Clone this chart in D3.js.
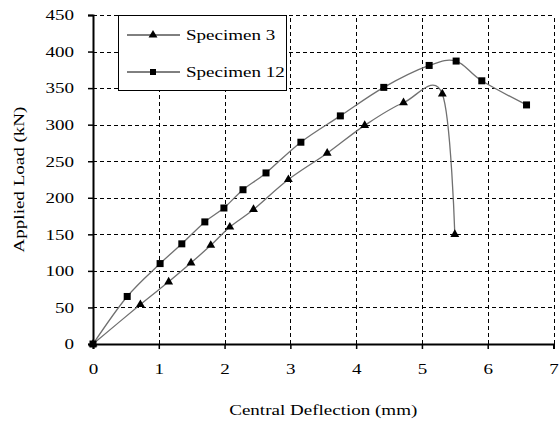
<!DOCTYPE html>
<html>
<head>
<meta charset="utf-8">
<script src="https://cdn.jsdelivr.net/npm/d3@7"></script>
<style>
  body { margin: 0; background: #fff; }
</style>
</head>
<body>
<div id="chart"></div>
<script>
const xTicks = [0, 1, 2, 3, 4, 5, 6, 7];
const yTicks = [0, 50, 100, 150, 200, 250, 300, 350, 400, 450];

const spec3Deflection = [0, 0.72, 1.15, 1.49, 1.79, 2.08, 2.44, 2.97, 3.56, 4.13, 4.72, 5.31, 5.50];
const spec3Load = [0, 54, 85, 111, 135, 160, 184, 225, 261, 299, 330, 342, 150];

const spec12Deflection = [0, 0.52, 1.02, 1.35, 1.70, 1.99, 2.28, 2.63, 3.16, 3.76, 4.42, 5.11, 5.52, 5.91, 6.59];
const spec12Load = [0, 65, 110, 137, 167, 186, 211, 234, 276, 312, 351, 381, 387, 360, 327];

const seriesNames = ['Specimen 3', 'Specimen 12'];

const FONT = "'Liberation Serif', 'Times New Roman', serif";
const SX = 1.27; // the original text is stretched horizontally
const width = 559, height = 427;
const margin = { left: 93, right: 5.5, top: 15, bottom: 83 };

const svg = d3.select('#chart').append('svg')
    .attr('width', width)
    .attr('height', height);

const x = d3.scaleLinear().domain([0, 7]).range([margin.left, width - margin.right]);
const y = d3.scaleLinear().domain([0, 450]).range([height - margin.bottom, margin.top]);

// grid
const grid = svg.append('g').attr('class', 'grid')
    .attr('stroke', '#000').attr('stroke-width', 1).attr('stroke-dasharray', '4,3');
grid.selectAll('.gx').data(xTicks.slice(1)).enter().append('line')
    .attr('x1', d => Math.round(x(d)) + 0.5).attr('x2', d => Math.round(x(d)) + 0.5)
    .attr('y1', y(0)).attr('y2', y(450));
grid.selectAll('.gy').data(yTicks.slice(1)).enter().append('line')
    .attr('x1', x(0)).attr('x2', x(7))
    .attr('y1', d => Math.round(y(d)) + 0.5).attr('y2', d => Math.round(y(d)) + 0.5);

// axes
const xAxis = svg.append('g')
    .attr('transform', `translate(0,${y(0)})`)
    .call(d3.axisBottom(x).tickValues(xTicks).tickSize(5).tickPadding(14).tickFormat(d3.format('d')));
const yAxis = svg.append('g')
    .attr('transform', `translate(${x(0)},0)`)
    .call(d3.axisLeft(y).tickValues(yTicks).tickSize(5).tickPadding(19).tickFormat(d3.format('d')));

[xAxis, yAxis].forEach(a => {
    a.attr('font-family', null);
    a.select('.domain').attr('stroke', '#000').attr('stroke-width', 2);
    a.selectAll('.tick line').attr('stroke', '#000').attr('stroke-width', 1.5);
    a.selectAll('.tick text')
        .style('font-family', FONT)
        .style('font-size', '15px')
        .attr('transform', `scale(${SX},1)`);
});
yAxis.selectAll('.tick text').attr('x', -19 / SX);

// axis titles
svg.append('text')
    .attr('transform', `translate(${(x(0) + x(7)) / 2},415) scale(${SX},1)`)
    .attr('text-anchor', 'middle')
    .style('font-family', FONT)
    .style('font-size', '15px')
    .text('Central Deflection (mm)');

svg.append('text')
    .attr('transform', `translate(24,${(y(0) + y(450)) / 2}) rotate(-90) scale(${SX},1)`)
    .attr('text-anchor', 'middle')
    .style('font-family', FONT)
    .style('font-size', '15px')
    .text('Applied Load (kN)');

// series
const s3 = spec3Deflection.map((d, i) => [d, spec3Load[i]]);
const s12 = spec12Deflection.map((d, i) => [d, spec12Load[i]]);

const line = d3.line()
    .x(d => x(d[0]))
    .y(d => y(d[1]))
    .curve(d3.curveCardinal.tension(0));

const plot = svg.append('g');
[s3, s12].forEach(s => {
    plot.append('path')
        .datum(s)
        .attr('d', line)
        .attr('fill', 'none')
        .attr('stroke', '#707070')
        .attr('stroke-width', 1.3);
});

const triangle = d3.symbol().type(d3.symbolTriangle).size(34);

plot.selectAll('.tri').data(s3).enter().append('path')
    .attr('d', triangle)
    .attr('transform', d => `translate(${x(d[0])},${y(d[1])})`)
    .attr('fill', '#000');

plot.selectAll('.sq').data(s12).enter().append('rect')
    .attr('x', d => x(d[0]) - 3.5)
    .attr('y', d => y(d[1]) - 3.5)
    .attr('width', 7).attr('height', 7)
    .attr('fill', '#000');

// legend
const legend = svg.append('g');
legend.append('rect')
    .attr('x', 118.5).attr('y', 15.5)
    .attr('width', 168).attr('height', 75)
    .attr('fill', '#fff')
    .attr('stroke', '#000').attr('stroke-width', 1);

const legendRows = [35, 72];
seriesNames.forEach((name, i) => {
    const ly = legendRows[i];
    legend.append('line')
        .attr('x1', 127).attr('x2', 180)
        .attr('y1', ly).attr('y2', ly)
        .attr('stroke', '#000').attr('stroke-width', 1);
    if (i === 0) {
        legend.append('path')
            .attr('d', triangle)
            .attr('transform', `translate(153,${ly})`)
            .attr('fill', '#000');
    } else {
        legend.append('rect')
            .attr('x', 150).attr('y', ly - 3)
            .attr('width', 6).attr('height', 6)
            .attr('fill', '#000');
    }
    legend.append('text')
        .attr('transform', `translate(186,${ly + 5}) scale(${SX},1)`)
        .style('font-family', FONT)
        .style('font-size', '15px')
        .text(name);
});
</script>
</body>
</html>
